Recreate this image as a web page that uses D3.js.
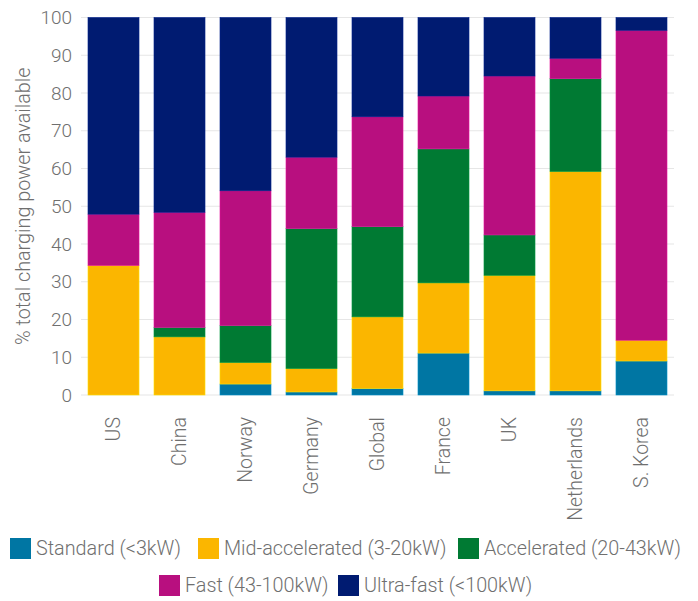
<!DOCTYPE html>
<html>
<head>
<meta charset="utf-8">
<script src="https://cdn.jsdelivr.net/npm/d3@7"></script>
<style>
  html, body { margin: 0; padding: 0; background: #fff; }
  svg text { font-family: Roboto, "Liberation Sans", sans-serif; font-weight: 300; fill: #6f6f6f; }
</style>
</head>
<body>
<svg id="chart" width="698" height="601"></svg>
<script>
const categories = ["US", "China", "Norway", "Germany", "Global", "France", "UK", "Netherlands", "S. Korea"];
const seriesNames = ["Standard (<3kW)", "Mid-accelerated (3-20kW)", "Accelerated (20-43kW)", "Fast (43-100kW)", "Ultra-fast (<100kW)"];
const standard    = [0,    0,    2.9,  0.8,  1.7,  11.1, 1.1,  1.1,  9.0];
const midAcc      = [34.3, 15.4, 5.7,  6.2,  19.0, 18.6, 30.6, 58.1, 5.5];
const accelerated = [0,    2.5,  9.8,  37.1, 23.9, 35.5, 10.7, 24.6, 0];
const fast        = [13.6, 30.5, 35.7, 18.9, 29.1, 14.0, 42.1, 5.4,  82.1];
const ultraFast   = [52.1, 51.6, 45.9, 37.0, 26.3, 20.8, 15.5, 10.8, 3.4];
const yTicks = [0, 10, 20, 30, 40, 50, 60, 70, 80, 90, 100];
const colors = ["#0076A3", "#FBB600", "#007A33", "#B80F7F", "#001B71"];

const seriesValues = [standard, midAcc, accelerated, fast, ultraFast];
const keys = ["s0", "s1", "s2", "s3", "s4"];
const table = categories.map((c, i) => {
  const row = { cat: c };
  keys.forEach((k, j) => row[k] = seriesValues[j][i]);
  return row;
});

const svg = d3.select("#chart");
const mLeft = 81, mRight = 674, mTop = 17.5, mBottom = 395;

const x = d3.scaleBand().domain(categories).range([mLeft, mRight])
  .paddingInner(0.227).paddingOuter(0.106);
const y = d3.scaleLinear().domain([0, 100]).range([mBottom, mTop]);

// gridlines
svg.append("g").selectAll("line").data(yTicks).join("line")
  .attr("x1", mLeft).attr("x2", mRight)
  .attr("y1", d => y(d)).attr("y2", d => y(d))
  .attr("stroke", "#e6e6e6").attr("stroke-width", 1.2);

// y tick labels
const yAxis = d3.axisLeft(y).tickValues(yTicks).tickSize(0).tickPadding(9);
const yg = svg.append("g").attr("transform", `translate(${mLeft},0)`).call(yAxis);
yg.select(".domain").remove();
yg.selectAll("text").style("font-size", "19px").attr("fill", "#6f6f6f");

// y title
svg.append("text")
  .attr("transform", `translate(30,${(mTop + mBottom) / 2}) rotate(-90)`)
  .attr("text-anchor", "middle")
  .style("font-size", "19.8px")
  .text("% total charging power available");

// stacked bars
const stack = d3.stack().keys(keys)(table);
const g = svg.append("g");
stack.forEach((layer, j) => {
  const c = d3.color(colors[j]);
  g.append("g").selectAll("rect").data(layer).join("rect")
    .attr("x", d => x(d.data.cat))
    .attr("width", x.bandwidth())
    .attr("y", d => y(d[1]))
    .attr("height", d => Math.max(0, y(d[0]) - y(d[1])))
    .attr("fill", colors[j])
    .attr("stroke", c.brighter(0.6))
    .attr("stroke-width", d => (d[1] - d[0]) > 0 ? 0.6 : 0);
});

// x labels
const xAxis = d3.axisBottom(x).tickSize(0).tickPadding(0);
const xg = svg.append("g").attr("transform", `translate(0,${mBottom})`).call(xAxis);
xg.select(".domain").remove();
xg.selectAll("text")
  .style("font-size", "19.5px")
  .attr("fill", "#6f6f6f")
  .attr("text-anchor", "end")
  .attr("transform", "rotate(-90)")
  .attr("x", -22)
  .attr("y", 0)
  .attr("dy", "0.35em");

// legend
const legendRows = [
  { y: 538, items: [{ i: 0, x: 10 }, { i: 1, x: 198 }, { i: 2, x: 458 }] },
  { y: 575, items: [{ i: 3, x: 159 }, { i: 4, x: 338 }] }
];
const lg = svg.append("g");
legendRows.forEach(row => {
  row.items.forEach(it => {
    lg.append("rect").attr("x", it.x).attr("y", row.y).attr("width", 21).attr("height", 21)
      .attr("fill", colors[it.i]);
    lg.append("text").attr("x", it.x + 26).attr("y", row.y + 10.5).attr("dy", "0.35em")
      .style("font-size", "19.8px").text(seriesNames[it.i]);
  });
});
</script>
</body>
</html>
